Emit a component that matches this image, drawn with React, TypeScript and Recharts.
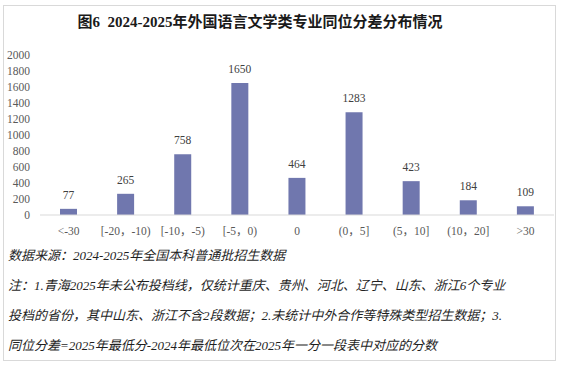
import React from 'react';
import { BarChart, Bar, XAxis, YAxis, LabelList } from 'recharts';

const categories = ['<-30', '[-20，-10)', '[-10，-5)', '[-5，0)', '0', '(0，5]', '(5，10]', '(10，20]', '>30'];
const counts = [77, 265, 758, 1650, 464, 1283, 423, 184, 109];
const yTicks = [0, 200, 400, 600, 800, 1000, 1200, 1400, 1600, 1800, 2000];

const title = '图6  2024-2025年外国语言文学类专业同位分差分布情况';
const notes = [
  '数据来源：2024-2025年全国本科普通批招生数据',
  '注：1.青海2025年未公布投档线，仅统计重庆、贵州、河北、辽宁、山东、浙江6个专业',
  '投档的省份，其中山东、浙江不含2段数据；2.未统计中外合作等特殊类型招生数据；3.',
  '同位分差=2025年最低分-2024年最低位次在2025年一分一段表中对应的分数',
];

const data = categories.map((c, i) => ({ name: c, value: counts[i] }));

const FONT = "'Liberation Serif', 'Noto Sans CJK SC', serif";

export default function App() {
  return (
    <div style={{ position: 'absolute', left: 0, top: 0, width: 561, height: 370, background: '#fff', overflow: 'hidden' }}>
      <div style={{ position: 'absolute', left: 3, top: 5, width: 553, height: 356, border: '1px solid #d9d9d9', boxSizing: 'border-box' }} />
      <div
        style={{
          position: 'absolute',
          left: 0,
          width: 520,
          top: 12,
          textAlign: 'center',
          fontFamily: FONT,
          fontWeight: 'bold',
          fontSize: 15,
          lineHeight: '20px',
          color: '#1a1a1a',
          whiteSpace: 'pre',
        }}
      >
        {title}
      </div>
      <div style={{ position: 'absolute', left: 0, top: 0, fontFamily: FONT }}>
        <BarChart width={561} height={250} data={data} margin={{ top: 55, right: 7, bottom: 5, left: 10 }} barSize={17}>
          <XAxis
            dataKey="name"
            axisLine={{ stroke: '#d9d9d9' }}
            tickLine={false}
            tickSize={0}
            tickMargin={12}
            height={30}
            interval={0}
            tick={{ fill: '#595959', fontSize: 11.5, style: { fontFamily: FONT } }}
          />
          <YAxis
            domain={[0, 2000]}
            ticks={yTicks}
            interval={0}
            width={30}
            axisLine={false}
            tickLine={false}
            tickSize={0}
            tickMargin={10}
            tick={{ fill: '#595959', fontSize: 11.5, style: { fontFamily: FONT } }}
          />
          <Bar dataKey="value" fill="#7077ae" isAnimationActive={false}>
            <LabelList dataKey="value" position="top" offset={10} style={{ fill: '#404040', fontSize: 11.5, fontFamily: FONT }} />
          </Bar>
        </BarChart>
      </div>
      <div
        style={{
          position: 'absolute',
          left: 8,
          top: 241,
          fontFamily: FONT,
          fontStyle: 'italic',
          fontSize: 13,
          lineHeight: '30px',
          color: '#1f1f1f',
          whiteSpace: 'nowrap',
        }}
      >
        {notes.map((n, i) => (
          <div key={i}>{n}</div>
        ))}
      </div>
    </div>
  );
}
